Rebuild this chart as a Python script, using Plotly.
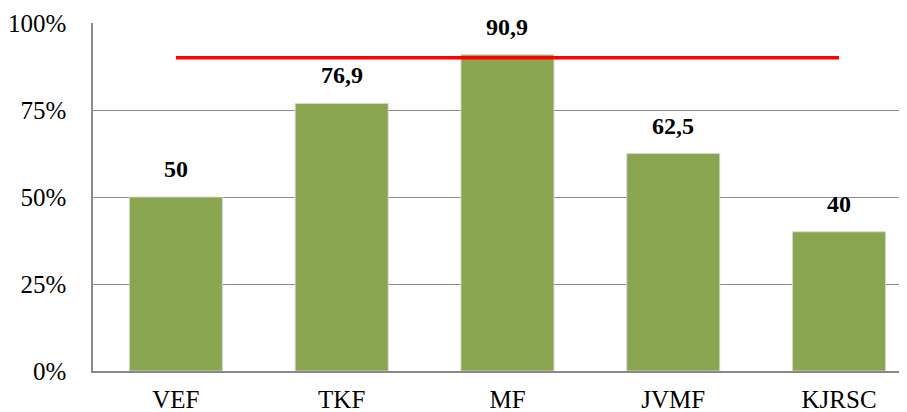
import plotly.graph_objects as go

categories = ["VEF", "TKF", "MF", "JVMF", "KJRSC"]
values = [50, 76.9, 90.9, 62.5, 40]
value_labels = ["50", "76,9", "90,9", "62,5", "40"]
target = 90
y_ticks = [0, 25, 50, 75, 100]
y_tick_labels = ["0%", "25%", "50%", "75%", "100%"]

FONT = "Liberation Serif, Times New Roman, serif"

fig = go.Figure()
fig.add_trace(go.Bar(
    x=categories, y=values,
    width=0.561,
    marker=dict(color="#8AA54F", line=dict(color="rgba(215,215,215,0.9)", width=1)),
    showlegend=False, hoverinfo="skip",
))
fig.add_trace(go.Scatter(
    x=[categories[0], categories[-1]], y=[target, target],
    mode="lines", line=dict(color="#FF0000", width=3.5),
    showlegend=False, hoverinfo="skip",
))
for c, v, t in zip(categories, values, value_labels):
    fig.add_annotation(x=c, y=v, text="<b>%s</b>" % t, showarrow=False,
                       yanchor="bottom", yshift=13,
                       font=dict(family=FONT, size=24, color="black"))

# page body has an 8px margin; figure sized/offset to compensate
fig.update_layout(
    width=899, height=404,
    margin=dict(l=85, r=0, t=15, b=41),
    plot_bgcolor="white", paper_bgcolor="white",
    font=dict(family=FONT),
    xaxis=dict(type="category", range=[-0.5, 4.41],
               showgrid=False, showline=True, linecolor="#888888", linewidth=1.5,
               ticks="", tickfont=dict(family=FONT, size=25, color="black"),
               ticklabelstandoff=5, automargin=False),
    yaxis=dict(range=[0, 100], tickvals=y_ticks, ticktext=y_tick_labels,
               showgrid=True, gridcolor="#8c8c8c", gridwidth=1,
               showline=True, linecolor="#8c8c8c", linewidth=1.5,
               ticks="", zeroline=False,
               tickfont=dict(family=FONT, size=25, color="black"),
               ticklabelstandoff=20, automargin=False),
)

fig.write_html("out.html")
